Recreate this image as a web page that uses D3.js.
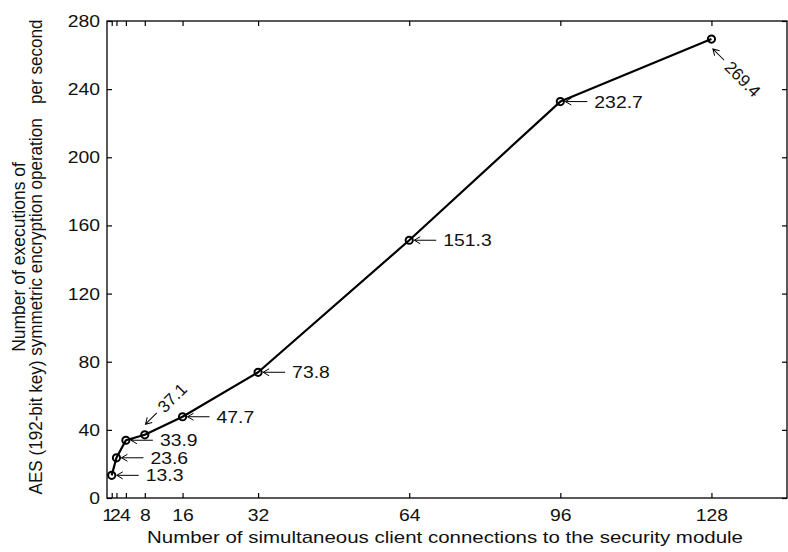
<!DOCTYPE html>
<html><head><meta charset="utf-8">
<script src="https://cdn.jsdelivr.net/npm/d3@7"></script>
<style>body{margin:0;background:#fff}svg{display:block}</style></head>
<body>
<svg id="c" width="788" height="552"></svg>
<script>
const connections = [1, 2, 4, 8, 16, 32, 64, 96, 128];
const executions = [13.3, 23.6, 33.9, 37.1, 47.7, 73.8, 151.3, 232.7, 269.4];
const labelAngles = [0, 0, 0, -45, 0, 0, 0, 0, 45];
const xTicks = [1, 2, 4, 8, 16, 32, 64, 96, 128];
const yTicks = [0, 40, 80, 120, 160, 200, 240, 280];
const xTitle = "Number of simultaneous client connections to the security module";
const yTitle = ["Number of executions of", "AES (192-bit key) symmetric encryption operation   per second"];

const L = 107, R = 787, T = 21, B = 498;
const FONT = "'Liberation Sans', Arial, sans-serif";
const FS = 17;
const SX = 1.14;           // horizontal stretch seen in the reference's horizontal text
const xLabelNudge = { 1: -4.5, 2: -1.5, 4: -1 }; // crowded labels packed as in the reference

const svg = d3.select("#c");
svg.append("rect").attr("width", 788).attr("height", 552).attr("fill", "#fff");

const x = d3.scaleLinear().domain([0, 144]).range([L, R]);
const y = d3.scaleLinear().domain([0, 280]).range([B, T]);

function styleAxis(g) {
  g.select(".domain").remove();
  g.selectAll(".tick line").attr("stroke", "#000").attr("stroke-width", 1.2);
  g.selectAll(".tick text").attr("font-family", FONT).attr("font-size", FS).attr("fill", "#111");
}

svg.append("g").attr("transform", `translate(0,${B})`)
  .call(d3.axisBottom(x).tickValues(xTicks).tickSizeInner(-5).tickSizeOuter(0).tickPadding(11).tickFormat(d3.format("d")))
  .call(styleAxis)
  .call(g => g.selectAll(".tick text")
    .attr("transform", d => `translate(${xLabelNudge[d] || 0},0) scale(${SX},1)`));
svg.append("g").attr("transform", `translate(0,${T})`)
  .call(d3.axisTop(x).tickValues(xTicks).tickSizeInner(-5).tickSizeOuter(0).tickFormat(""))
  .call(styleAxis);
svg.append("g").attr("transform", `translate(${L},0)`)
  .call(d3.axisLeft(y).tickValues(yTicks).tickSizeInner(-5).tickSizeOuter(0).tickPadding(7).tickFormat(d3.format("d")))
  .call(styleAxis)
  .call(g => g.selectAll(".tick text").attr("x", null)
    .attr("transform", `translate(-7,0) scale(${SX},1)`));
svg.append("g").attr("transform", `translate(${R},0)`)
  .call(d3.axisRight(y).tickValues(yTicks).tickSizeInner(-5).tickSizeOuter(0).tickFormat(""))
  .call(styleAxis);

svg.append("rect").attr("x", L).attr("y", T).attr("width", R - L).attr("height", B - T)
  .attr("fill", "none").attr("stroke", "#000").attr("stroke-width", 1.3);

const pts = connections.map((c, i) => ({ c, v: executions[i], a: labelAngles[i] }));

svg.append("path").datum(pts)
  .attr("d", d3.line().x(d => x(d.c)).y(d => y(d.v)))
  .attr("fill", "none").attr("stroke", "#000").attr("stroke-width", 2.2).attr("stroke-linejoin", "round");

svg.selectAll("circle.m").data(pts).join("circle").attr("class", "m")
  .attr("cx", d => x(d.c)).attr("cy", d => y(d.v)).attr("r", 3.6)
  .attr("fill", "none").attr("stroke", "#000").attr("stroke-width", 2);

const ann = svg.selectAll("g.ann").data(pts).join("g").attr("class", "ann")
  .attr("transform", d => `translate(${x(d.c)},${y(d.v)}) rotate(${d.a})`);
ann.each(function (d) {
  const g = d3.select(this);
  const flat = d.a === 0;
  const dy = d.a < 0 ? -7 : d.a > 0 ? 6 : 0;
  const a0 = flat ? 5 : 8, a1 = flat ? 27 : 24, tx = flat ? 34 : 29;
  g.append("path")
    .attr("d", `M${a0},${dy}H${a1}M${a0 + 6},${dy - 3.5}L${a0},${dy}L${a0 + 6},${dy + 3.5}`)
    .attr("fill", "none").attr("stroke", "#000").attr("stroke-width", 1);
  g.append("text")
    .attr("transform", `translate(${tx},${dy}) scale(${flat ? SX : 1},1)`)
    .attr("dy", "0.36em")
    .attr("font-family", FONT).attr("font-size", FS).attr("fill", "#111")
    .text(d3.format(".1f")(d.v));
});

svg.append("text").attr("x", 445).attr("y", 543).attr("text-anchor", "middle")
  .attr("textLength", 596).attr("lengthAdjust", "spacingAndGlyphs")
  .attr("font-family", FONT).attr("font-size", FS).attr("fill", "#111").text(xTitle);

const yc = 257;
svg.selectAll("text.yt").data(yTitle).join("text").attr("class", "yt")
  .attr("transform", (d, i) => `translate(${i === 0 ? 25 : 41.5},${yc}) rotate(-90)`)
  .attr("text-anchor", "middle").attr("xml:space", "preserve").style("white-space", "pre")
  .attr("font-family", FONT).attr("font-size", 17.5).attr("fill", "#111")
  .each(function (d, i) { if (i === 1) d3.select(this).attr("textLength", 475).attr("lengthAdjust", "spacingAndGlyphs"); })
  .text(d => d);
</script>
</body></html>
